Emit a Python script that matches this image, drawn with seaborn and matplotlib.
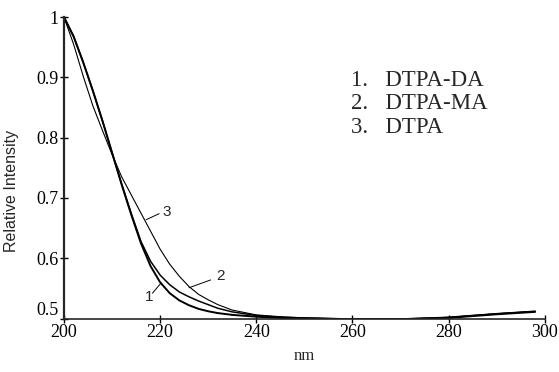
import matplotlib
matplotlib.use("Agg")
import matplotlib.pyplot as plt
import pandas as pd
import seaborn as sns

# longitud de onda (nm) y espectros normalizados
nm = [200, 202, 204, 206, 208, 210, 212, 214, 216, 218, 220, 222, 224, 226,
      228, 230, 232, 235, 240, 245, 250, 260, 270, 280, 290, 298]
dtpa_da = [1.000, 0.968, 0.925, 0.878, 0.828, 0.775, 0.722, 0.672, 0.625, 0.587,
           0.560, 0.542, 0.530, 0.522, 0.516, 0.512, 0.509, 0.506, 0.503, 0.501,
           0.500, 0.499, 0.499, 0.501, 0.507, 0.511]
dtpa_ma = [1.000, 0.968, 0.925, 0.878, 0.828, 0.775, 0.723, 0.674, 0.628, 0.595,
           0.572, 0.556, 0.544, 0.536, 0.529, 0.523, 0.517, 0.511, 0.505, 0.502,
           0.501, 0.499, 0.499, 0.502, 0.508, 0.512]
dtpa = [1.000, 0.955, 0.902, 0.853, 0.812, 0.772, 0.735, 0.705, 0.675, 0.645,
        0.615, 0.590, 0.570, 0.553, 0.540, 0.531, 0.523, 0.514, 0.506, 0.503,
        0.501, 0.499, 0.499, 0.502, 0.508, 0.512]

series = ["1", "2", "3"]
leyenda = ["1.   DTPA-DA", "2.   DTPA-MA", "3.   DTPA"]
xticks = [200, 220, 240, 260, 280, 300]
yticks = [0.5, 0.6, 0.7, 0.8, 0.9, 1.0]
ytick_labels = ["0.5", "0.6", "0.7", "0.8", "0.9", "1"]

sns.set_style("ticks")
plt.rcParams["font.family"] = ["Liberation Serif", "DejaVu Serif"]

fig = plt.figure(figsize=(5.59, 3.72), dpi=100)
ax = fig.add_axes([0.1145, 0.1438, 0.86, 0.81])

for valores, lw in zip([dtpa_da, dtpa_ma, dtpa], [1.4, 1.1, 0.8]):
    sns.lineplot(x=nm, y=valores, color="black", linewidth=lw, ax=ax)

ax.set_xlim(200, 300)
ax.set_ylim(0.5, 1.0)
ax.set_xticks(xticks)
ax.set_yticks(yticks)
ax.set_yticklabels(ytick_labels)
ax.tick_params(direction="inout", length=6, width=1.0, labelsize=13, colors="black")
ax.tick_params(axis="x", pad=1)
ax.tick_params(axis="y", pad=1)
ax.get_yticklabels()[0].set_verticalalignment("bottom")
sns.despine(ax=ax)
ax.spines["left"].set_linewidth(1.6)
ax.spines["bottom"].set_linewidth(1.2)

ax.set_ylabel("Relative Intensity", family=["Liberation Sans", "DejaVu Sans"],
              fontsize=11.5)
ax.yaxis.set_label_coords(-0.093, 0.424)
ax.set_xlabel("nm", fontsize=12, labelpad=5)

# etiquetas numéricas de cada curva con su línea guía
guias = {
    "3": ((217.1, 0.664), (219.8, 0.674), (221.3, 0.677)),
    "2": ((226.0, 0.551), (230.5, 0.564), (232.6, 0.571)),
    "1": ((218.4, 0.542), (220.2, 0.559), (217.8, 0.536)),
}
for etiqueta in series:
    p0, p1, pt = guias[etiqueta]
    ax.plot([p0[0], p1[0]], [p0[1], p1[1]], color="black", linewidth=0.7)
    ax.text(pt[0], pt[1], etiqueta, family=["Liberation Sans", "DejaVu Sans"],
            fontsize=11, ha="center", va="center")

for i, texto in enumerate(leyenda):
    ax.text(0.596, 0.789 - i * 0.077, texto, transform=ax.transAxes,
            fontsize=16.5, ha="left", va="center")

fig.savefig("out.png", dpi=100)
